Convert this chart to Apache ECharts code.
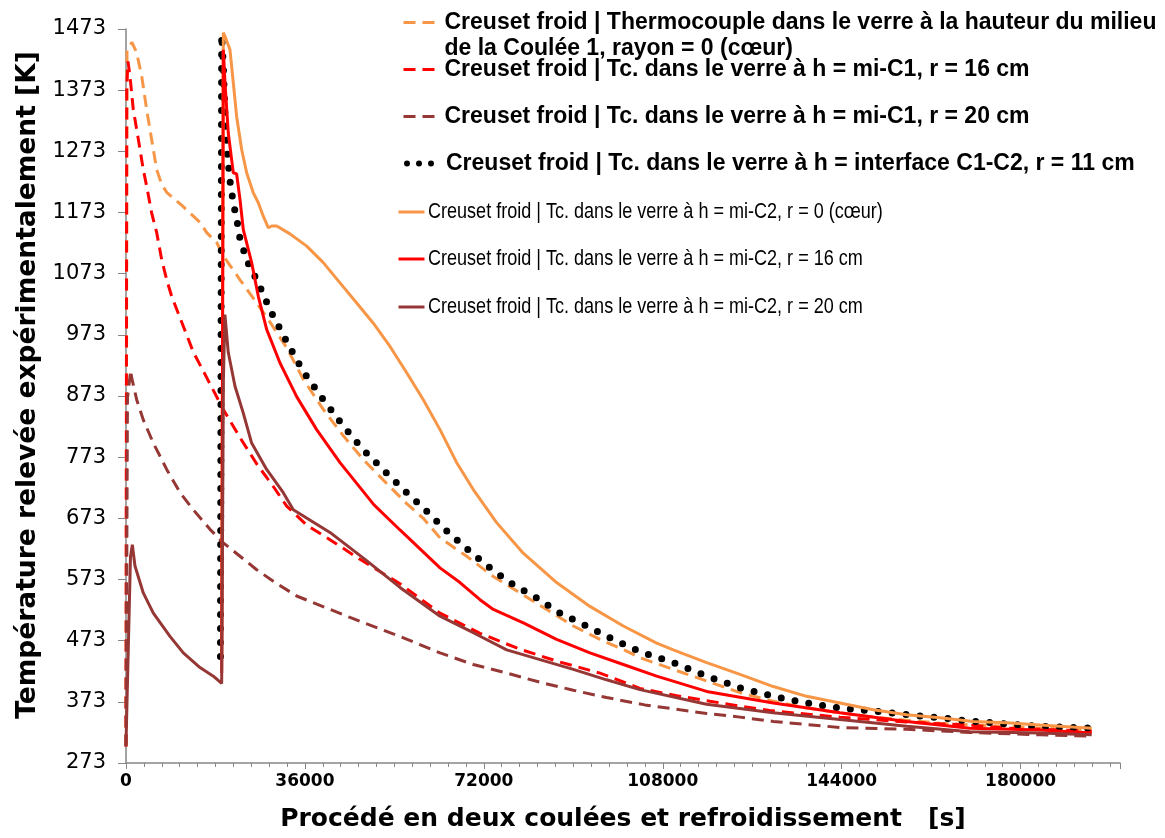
<!DOCTYPE html>
<html>
<head>
<meta charset="utf-8">
<title>Creuset froid - températures</title>
<script src="https://cdn.jsdelivr.net/npm/echarts@6/dist/echarts.min.js"></script>
<style>
  html, body { margin: 0; padding: 0; background: #fff; }
  #chart { width: 1165px; height: 838px; }
</style>
</head>
<body>
<div id="chart"></div>
<script>
// Températures relevées : [temps (s), T (K)]
const orangeDashC1 = [[0,300],[200,1440],[1200,1451],[2150,1434],[3160,1396],[4160,1341],[5170,1292],[6180,1243],[7180,1219],[8190,1206],[11470,1183],[12880,1172],[14890,1157],[16240,1140],[18250,1124],[19580,1102],[22940,1063],[26300,1025],[29040,993],[32330,952],[35700,900],[39700,851],[43730,808],[47750,769],[52450,730],[56480,697],[59820,673],[63180,641],[68550,611],[73900,578],[79270,551],[84650,524],[90000,497],[95370,475],[100740,456],[103420,445],[110100,426],[116830,407],[123540,388],[130240,374],[136950,363],[143650,355],[150360,348],[157070,343],[163780,338],[170480,335],[177190,333],[183900,330],[194300,327]];
const redDashC1 = [[0,300],[150,1380],[400,1420],[800,1396],[1470,1341],[2150,1309],[2820,1276],[3480,1243],[4160,1216],[5170,1172],[6180,1140],[7180,1096],[8190,1063],[9190,1036],[11530,987],[13540,945],[16240,903],[19580,851],[22940,805],[26300,762],[29640,725],[32330,693],[36360,662],[41050,638],[47080,606],[55130,566],[63180,518],[71230,485],[79270,459],[87320,438],[95370,420],[103400,395],[110800,383],[117500,374],[123500,366],[129500,359],[135500,354],[143650,348],[150360,344],[157070,340],[163780,337],[169800,335],[177190,330],[183900,328],[194300,325]];
const brownDashC1 = [[0,300],[300,870],[940,915],[1140,903],[2150,867],[3480,834],[5500,796],[8190,753],[10870,715],[13540,687],[16900,655],[19580,633],[22940,611],[26300,589],[29640,570],[34340,546],[45070,511],[55130,480],[63180,453],[69880,434],[76600,420],[83300,405],[90000,392],[96700,380],[104400,368],[111470,360],[116830,354],[123540,348],[130240,341],[136950,336],[143650,331],[148300,330],[157100,328],[169800,323],[183900,319],[194300,317]];
const dotsInterface = [[19000,447],[19250,1464],[19580,1412],[19920,1330],[20260,1281],[20920,1225],[21590,1189],[22600,1148],[22940,1129],[24450,1092],[26620,1058],[28970,1014],[32330,962],[35670,913],[39700,867],[43720,824],[47750,785],[52450,747],[56480,715],[59820,690],[64180,655],[69210,619],[73240,592],[77260,568],[82630,543],[87320,518],[92690,497],[98050,475],[103420,455],[110120,437],[116830,415],[123540,396],[130240,382],[136950,371],[143650,363],[150360,358],[157070,352],[163780,347],[170480,341],[177190,337],[183900,333],[194300,330]];
const orangeC2 = [[19250,450],[19580,1467],[19920,1461],[20920,1439],[21590,1385],[22260,1330],[23270,1276],[24280,1238],[25620,1205],[26620,1189],[27620,1167],[28640,1148],[29310,1151],[30320,1151],[33000,1138],[36360,1118],[39700,1091],[43060,1058],[46420,1025],[49760,992],[53120,954],[56480,911],[59820,867],[63180,818],[66540,764],[69880,720],[74570,666],[79930,616],[86640,568],[93350,529],[100060,497],[106770,469],[110120,458],[116830,437],[123540,418],[130240,398],[136950,382],[143650,371],[150360,360],[157070,352],[163780,347],[170480,341],[177190,339],[183900,335],[194300,330]];
const redC2 = [[19250,420],[19580,1439],[19920,1385],[20580,1303],[21260,1259],[21590,1238],[22260,1236],[22940,1194],[23600,1145],[25280,1091],[26620,1036],[28300,982],[30990,927],[34340,872],[38360,818],[43060,764],[49900,695],[55130,654],[63180,592],[67200,568],[71230,540],[73910,524],[79950,502],[86640,475],[93350,453],[100060,434],[106770,415],[116830,390],[130240,371],[143650,355],[157070,341],[169800,330],[183900,327],[194300,322]];
const brownC2 = [[0,303],[900,610],[1270,630],[1810,595],[3480,551],[5500,518],[8850,480],[11530,453],[14890,429],[17570,415],[19250,403],[19600,900],[19900,1006],[20580,944],[21930,889],[23600,845],[25280,796],[28300,753],[31650,715],[33660,687],[41040,650],[48090,606],[55130,560],[63180,513],[69880,486],[76600,458],[83300,442],[90000,426],[96700,409],[103400,393],[116800,369],[130200,355],[143650,344],[157100,333],[169800,324],[183900,322],[194300,319]];

const seriesNames = [
    'Creuset froid | Thermocouple dans le verre à la hauteur du milieu de la Coulée 1, rayon = 0 (cœur)',
    'Creuset froid | Tc. dans le verre à h = mi-C1, r = 16 cm',
    'Creuset froid | Tc. dans le verre à h = mi-C1, r = 20 cm',
    'Creuset froid | Tc. dans le verre à h = interface C1-C2, r = 11 cm',
    'Creuset froid | Tc. dans le verre à h = mi-C2, r = 0 (cœur)',
    'Creuset froid | Tc. dans le verre à h = mi-C2, r = 16 cm',
    'Creuset froid | Tc. dans le verre à h = mi-C2, r = 20 cm'
];
const yTicks = [273, 373, 473, 573, 673, 773, 873, 973, 1073, 1173, 1273, 1373, 1473];

const ORANGE = '#f79646', RED = '#ff0000', BROWN = '#953735';
const DASH = [12, 7];
const DOTS = [0, 14];

function line(i, data, color, type, width, cap) {
    return {
        name: seriesNames[i], type: 'line', data: data,
        symbol: 'none', showSymbol: false, silent: true,
        lineStyle: { color: color, width: width, type: type, cap: cap || 'butt' },
        itemStyle: { color: color }
    };
}

const series = [
    line(0, orangeDashC1, ORANGE, DASH, 3),
    line(1, redDashC1, RED, DASH, 3),
    line(2, brownDashC1, BROWN, DASH, 3),
    line(3, dotsInterface, '#000', DOTS, 7, 'round'),
    line(4, orangeC2, ORANGE, 'solid', 3),
    line(5, redC2, RED, 'solid', 3),
    line(6, brownC2, BROWN, 'solid', 3)
];

const boldText = { fontFamily: 'Liberation Sans', fontWeight: 'bold', fontSize: 23, color: '#000' };
const legendTops = [-15, 58, 105, 152, 205, 252, 300];
const iconMid = [0, 0, 0, 0, 212, 259, 307];

const legends = seriesNames.map((n, i) => {
    const wide = i < 4;
    const lg = {
        data: [n], orient: 'vertical', top: legendTops[i],
        left: wide ? 402 : 397, padding: 0,
        itemWidth: i === 3 ? 34 : (wide ? 36 : 26), itemHeight: 14,
        itemStyle: { opacity: 0 },
        lineStyle: i === 3 ? { width: 6, type: [0, 12], cap: 'round' } : { width: 3 },
        selectedMode: false,
        textStyle: Object.assign({}, boldText)
    };
    if (i === 3) lg.left = 404;
    if (i === 0) {
        // first line aligned with the icon, as in the original
        lg.formatter = () => '{b| }\n{a|Creuset froid | Thermocouple dans le verre à la hauteur du milieu}\n{a|de la Coulée 1, rayon = 0 (cœur)}';
        lg.textStyle.rich = {
            a: Object.assign({ lineHeight: 26 }, boldText),
            b: Object.assign({ lineHeight: 26 }, boldText)
        };
    }
    // the last three entries use a condensed face: drawn next to the icon
    if (!wide) lg.formatter = () => '';
    return lg;
});

const narrowLabels = [4, 5, 6].map(i => ({
    type: 'text', x: 428, y: iconMid[i], scaleX: 0.82, silent: true,
    style: {
        text: seriesNames[i], x: 0, y: 0, align: 'left', verticalAlign: 'middle',
        font: '22px "Liberation Sans"', fill: '#000'
    }
}));

const chart = echarts.init(document.getElementById('chart'));
chart.setOption({
    animation: false,
    backgroundColor: '#fff',
    grid: { left: 126, right: 45, top: 29, bottom: 75 },
    legend: legends,
    graphic: narrowLabels,
    xAxis: {
        type: 'value', min: 0, max: 200000, interval: 36000,
        name: 'Procédé en deux coulées et refroidissement   [s]',
        nameLocation: 'middle', nameGap: 44,
        nameTextStyle: { fontFamily: 'DejaVu Sans', fontWeight: 'bold', fontSize: 25, color: '#000' },
        axisLine: { lineStyle: { color: '#868686', width: 1.5 } },
        axisTick: { length: 6, lineStyle: { color: '#868686' } },
        minorTick: { show: true, splitNumber: 10, length: 4, lineStyle: { color: '#868686' } },
        splitLine: { show: false },
        axisLabel: {
            showMaxLabel: false, margin: 10, formatter: v => String(v),
            fontFamily: 'DejaVu Sans', fontWeight: 'bold', fontSize: 17, color: '#000'
        }
    },
    yAxis: {
        type: 'value', min: 273, max: 1473,
        name: 'Température relevée expérimentalement [K]',
        nameLocation: 'middle', nameGap: 84, nameRotate: 90,
        nameTextStyle: { fontFamily: 'DejaVu Sans', fontWeight: 'bold', fontSize: 26.5, color: '#000', padding: [0, 0, 0, 22] },
        axisLine: { show: true, lineStyle: { color: '#868686', width: 1.5 } },
        axisTick: { show: true, length: 8, customValues: yTicks, lineStyle: { color: '#868686' } },
        splitLine: { show: false },
        axisLabel: {
            customValues: yTicks, margin: 20, formatter: v => String(v),
            fontFamily: 'DejaVu Sans', fontSize: 21, color: '#000'
        }
    },
    series: series
});
</script>
</body>
</html>
